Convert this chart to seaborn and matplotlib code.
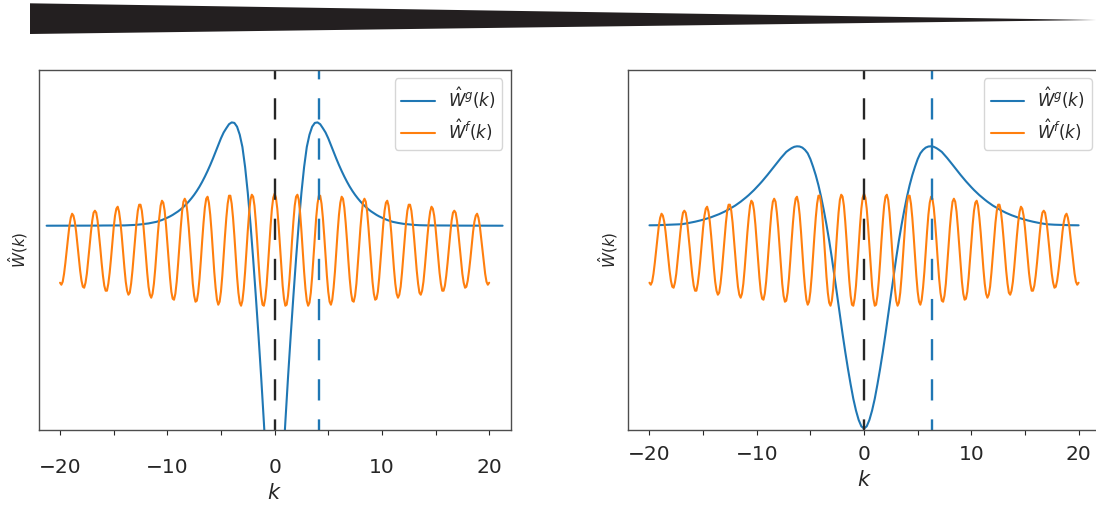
import numpy as np
import matplotlib
matplotlib.use("Agg")
import matplotlib.pyplot as plt
import seaborn as sns

# === Values (y in arbitrary units, 0 = blue baseline) ===
K_LEFT_SPAN = (-21.25, 21.25)   # left blue curve runs a bit wider than the rest
K_SPAN = (-20, 20)

BLUE_LEFT = [
    0.0, 0.0, 0.0, 0.0, 0.0, 0.0, 0.0, 0.0, 0.0, 0.0,
    0.1, 0.1, 0.1, 0.1, 0.1, 0.1, 0.1, 0.1, 0.1, 0.1,
    0.2, 0.2, 0.2, 0.2, 0.2, 0.2, 0.3, 0.3, 0.3, 0.3,
    0.4, 0.5, 0.6, 0.8, 1.0, 1.3, 1.6, 1.9, 2.3, 2.8,
    3.3, 3.9, 4.8, 5.7, 6.8, 8.0, 9.3, 10.8, 12.5, 14.3,
    16.4, 18.7, 21.3, 24.2, 27.4, 30.9, 34.8, 39.1, 43.9, 49.1,
    54.7, 60.7, 67.1, 73.8, 80.6, 87.4, 93.2, 97.5, 101.5, 103.3,
    102.8, 99.0, 91.0, 78.7, 58.7, 32.9, 1.9, -33.0, -70.6, -110.1,
    -151.8, -196.6, -243.6, -288.2, -321.5,
    -334.0,
    -321.5, -288.2, -243.6, -196.6, -151.8,
    -110.1, -70.6, -33.0, 1.9, 32.9, 58.7, 78.7, 91.0, 99.0, 102.8,
    103.3, 101.5, 97.5, 93.2, 87.4, 80.6, 73.8, 67.1, 60.7, 54.7,
    49.1, 43.9, 39.1, 34.8, 30.9, 27.4, 24.2, 21.3, 18.7, 16.4,
    14.3, 12.5, 10.8, 9.3, 8.0, 6.8, 5.7, 4.8, 3.9, 3.3,
    2.8, 2.3, 1.9, 1.6, 1.3, 1.0, 0.8, 0.6, 0.5, 0.4,
    0.3, 0.3, 0.3, 0.3, 0.2, 0.2, 0.2, 0.2, 0.2, 0.2,
    0.1, 0.1, 0.1, 0.1, 0.1, 0.1, 0.1, 0.1, 0.1, 0.1,
    0.0, 0.0, 0.0, 0.0, 0.0, 0.0, 0.0, 0.0, 0.0, 0.0,
]

BLUE_RIGHT = [
    0.4, 0.4, 0.5, 0.5, 0.6, 0.6, 0.7, 0.8, 0.9, 1.0,
    1.1, 1.3, 1.5, 1.9, 2.4, 2.9, 3.4, 4.0, 4.6, 5.3,
    6.0, 6.8, 7.6, 8.5, 9.5, 10.5, 11.6, 12.8, 14.1, 15.5,
    17.0, 18.6, 20.2, 22.1, 24.0, 26.1, 28.3, 30.6, 33.1, 35.7,
    38.5, 41.4, 44.4, 47.6, 50.8, 54.2, 57.6, 61.0, 64.4, 67.7,
    70.8, 73.8, 75.8, 77.6, 78.9, 79.4, 79.2, 78.1, 75.8, 72.4,
    66.6, 59.0, 50.5, 40.5, 28.8, 15.5, 1.0, -14.8, -32.2, -50.8,
    -70.0, -89.3, -108.2, -126.2, -143.0, -158.6, -173.0, -184.8, -194.2, -200.6,
    -202.8,
    -200.6, -194.2, -184.8, -173.0, -158.6, -143.0, -126.2, -108.2, -89.3, -70.0,
    -50.8, -32.2, -14.8, 1.0, 15.5, 28.8, 40.5, 50.5, 59.0, 66.6,
    72.4, 75.8, 78.1, 79.2, 79.4, 78.9, 77.6, 75.8, 73.8, 70.8,
    67.7, 64.4, 61.0, 57.6, 54.2, 50.8, 47.6, 44.4, 41.4, 38.5,
    35.7, 33.1, 30.6, 28.3, 26.1, 24.0, 22.1, 20.2, 18.6, 17.0,
    15.5, 14.1, 12.8, 11.6, 10.5, 9.5, 8.5, 7.6, 6.8, 6.0,
    5.3, 4.6, 4.0, 3.4, 2.9, 2.4, 1.9, 1.5, 1.3, 1.1,
    1.0, 0.9, 0.8, 0.7, 0.6, 0.6, 0.5, 0.5, 0.4, 0.4,
]

# same oscillating curve in both panels
ORANGE = [
    -57, -59, -56, -48, -37, -24, -12, 0, 8, 12,
    10, 4, -6, -19, -33, -45, -55, -61, -62, -57,
    -48, -35, -21, -7, 5, 13, 15, 13, 5, -8,
    -22, -37, -50, -60, -65, -65, -58, -47, -33, -17,
    -2, 10, 17, 19, 14, 4, -10, -26, -42, -56,
    -65, -69, -67, -58, -45, -29, -12, 3, 15, 21,
    21, 15, 3, -13, -30, -47, -61, -69, -72, -68,
    -58, -43, -25, -7, 8, 20, 25, 23, 15, 1,
    -17, -35, -52, -66, -73, -74, -68, -56, -39, -20,
    -2, 14, 24, 27, 24, 13, -2, -21, -40, -58,
    -70, -76, -75, -67, -53, -35, -15, 3, 18, 27,
    29, 23, 11, -6, -26, -46, -62, -74, -79, -76,
    -66, -50, -30, -10, 8, 22, 30, 30, 22, 8,
    -10, -31, -51, -67, -77, -80, -75, -63, -46, -25,
    -5, 13, 26, 31, 29, 20, 4, -15, -36, -55,
    -70, -79, -80, -73, -60, -41, -20, 0, 17, 28,
    32,
    28, 17, 0, -20, -41, -60, -73, -80, -79, -70,
    -55, -36, -15, 4, 20, 29, 31, 26, 13, -5,
    -25, -46, -63, -75, -80, -77, -67, -51, -31, -10,
    8, 22, 30, 30, 22, 8, -10, -30, -50, -66,
    -76, -79, -74, -62, -46, -26, -6, 11, 23, 29,
    27, 18, 3, -15, -35, -53, -67, -75, -76, -70,
    -58, -40, -21, -2, 13, 24, 27, 24, 14, -2,
    -20, -39, -56, -68, -74, -73, -66, -52, -35, -17,
    1, 15, 23, 25, 20, 8, -7, -25, -43, -58,
    -68, -72, -69, -61, -47, -30, -13, 3, 15, 21,
    21, 15, 3, -12, -29, -45, -58, -67, -69, -65,
    -56, -42, -26, -10, 4, 14, 19, 17, 10, -2,
    -17, -33, -47, -58, -65, -65, -60, -50, -37, -22,
    -8, 5, 13, 15, 13, 5, -7, -21, -35, -48,
    -57, -62, -61, -55, -45, -33, -19, -6, 4, 10,
    12, 8, 0, -12, -24, -37, -48, -56, -59, -57,
]

PEAK_K = [4.13, 6.37]          # blue dashed markers (left, right)
CENTER_K = 0
Y_LIMITS = (-204.3, 155.7)
X_LIMITS = (-22, 22)
XTICKS = [-20, -15, -10, -5, 0, 5, 10, 15, 20]
XTICK_LABELS = ["\u221220", "", "\u221210", "", "0", "", "10", "", "20"]
LEGEND_LABELS = [r"$\hat{W}^g(k)$", r"$\hat{W}^f(k)$"]

# decorative wedge at the top, in figure pixels
WEDGE_X = [30, 1096, 30]
WEDGE_Y = [3.3, 20, 34]

BLUE = "#1f77b4"
ORANGE_C = "#ff7f0e"
DASH = (4.5, (9, 8))


def draw_panel(fig, rect, k_blue, blue, peak, tick_pad):
    ax = fig.add_axes(rect)
    k_orange = np.linspace(*K_SPAN, len(ORANGE))
    sns.lineplot(x=k_blue, y=blue, ax=ax, color=BLUE, linewidth=1.5,
                 label=LEGEND_LABELS[0], sort=False)
    sns.lineplot(x=k_orange, y=ORANGE, ax=ax, color=ORANGE_C, linewidth=1.5,
                 label=LEGEND_LABELS[1], sort=False)
    ax.axvline(CENTER_K, color="0.15", linewidth=1.7, linestyle=DASH)
    ax.axvline(peak, color=BLUE, linewidth=1.7, linestyle=DASH)

    ax.set_xlim(*X_LIMITS)
    ax.set_ylim(*Y_LIMITS)
    ax.set_xticks(XTICKS)
    ax.set_xticklabels(XTICK_LABELS)
    ax.set_yticks([])
    ax.tick_params(axis="x", labelsize=14.5, length=3.5, width=0.8,
                   pad=tick_pad, colors="0.15")
    for sp in ax.spines.values():
        sp.set_color("0.3")
        sp.set_linewidth(1.0)
    ax.set_xlabel(r"$k$", fontsize=15, color="0.15")
    ax.set_ylabel(r"$\hat{W}(k)$", fontsize=11, color="0.15", labelpad=6)
    ax.legend(loc="upper right", fontsize=12, edgecolor="0.8", labelspacing=0.4)
    return ax


sns.set_style("ticks")
fig = plt.figure(figsize=(10.96, 5.08), dpi=100)

# === Top wedge ===
wax = fig.add_axes([0, 0, 1, 1])
wax.fill(WEDGE_X, WEDGE_Y, color="#231f20", lw=0)
wax.set_xlim(0, 1096)
wax.set_ylim(508, 0)
wax.axis("off")

# === Two panels (right one runs past the figure edge) ===
k_left = np.linspace(*K_LEFT_SPAN, len(BLUE_LEFT))
k_right = np.linspace(*K_SPAN, len(BLUE_RIGHT))
draw_panel(fig, [0.0352, 0.1535, 0.4307, 0.7087], k_left, BLUE_LEFT, PEAK_K[0], 17)
draw_panel(fig, [0.573, 0.1535, 0.4307, 0.7087], k_right, BLUE_RIGHT, PEAK_K[1], 7.5)

fig.savefig("out.png", dpi=100)
plt.close(fig)
